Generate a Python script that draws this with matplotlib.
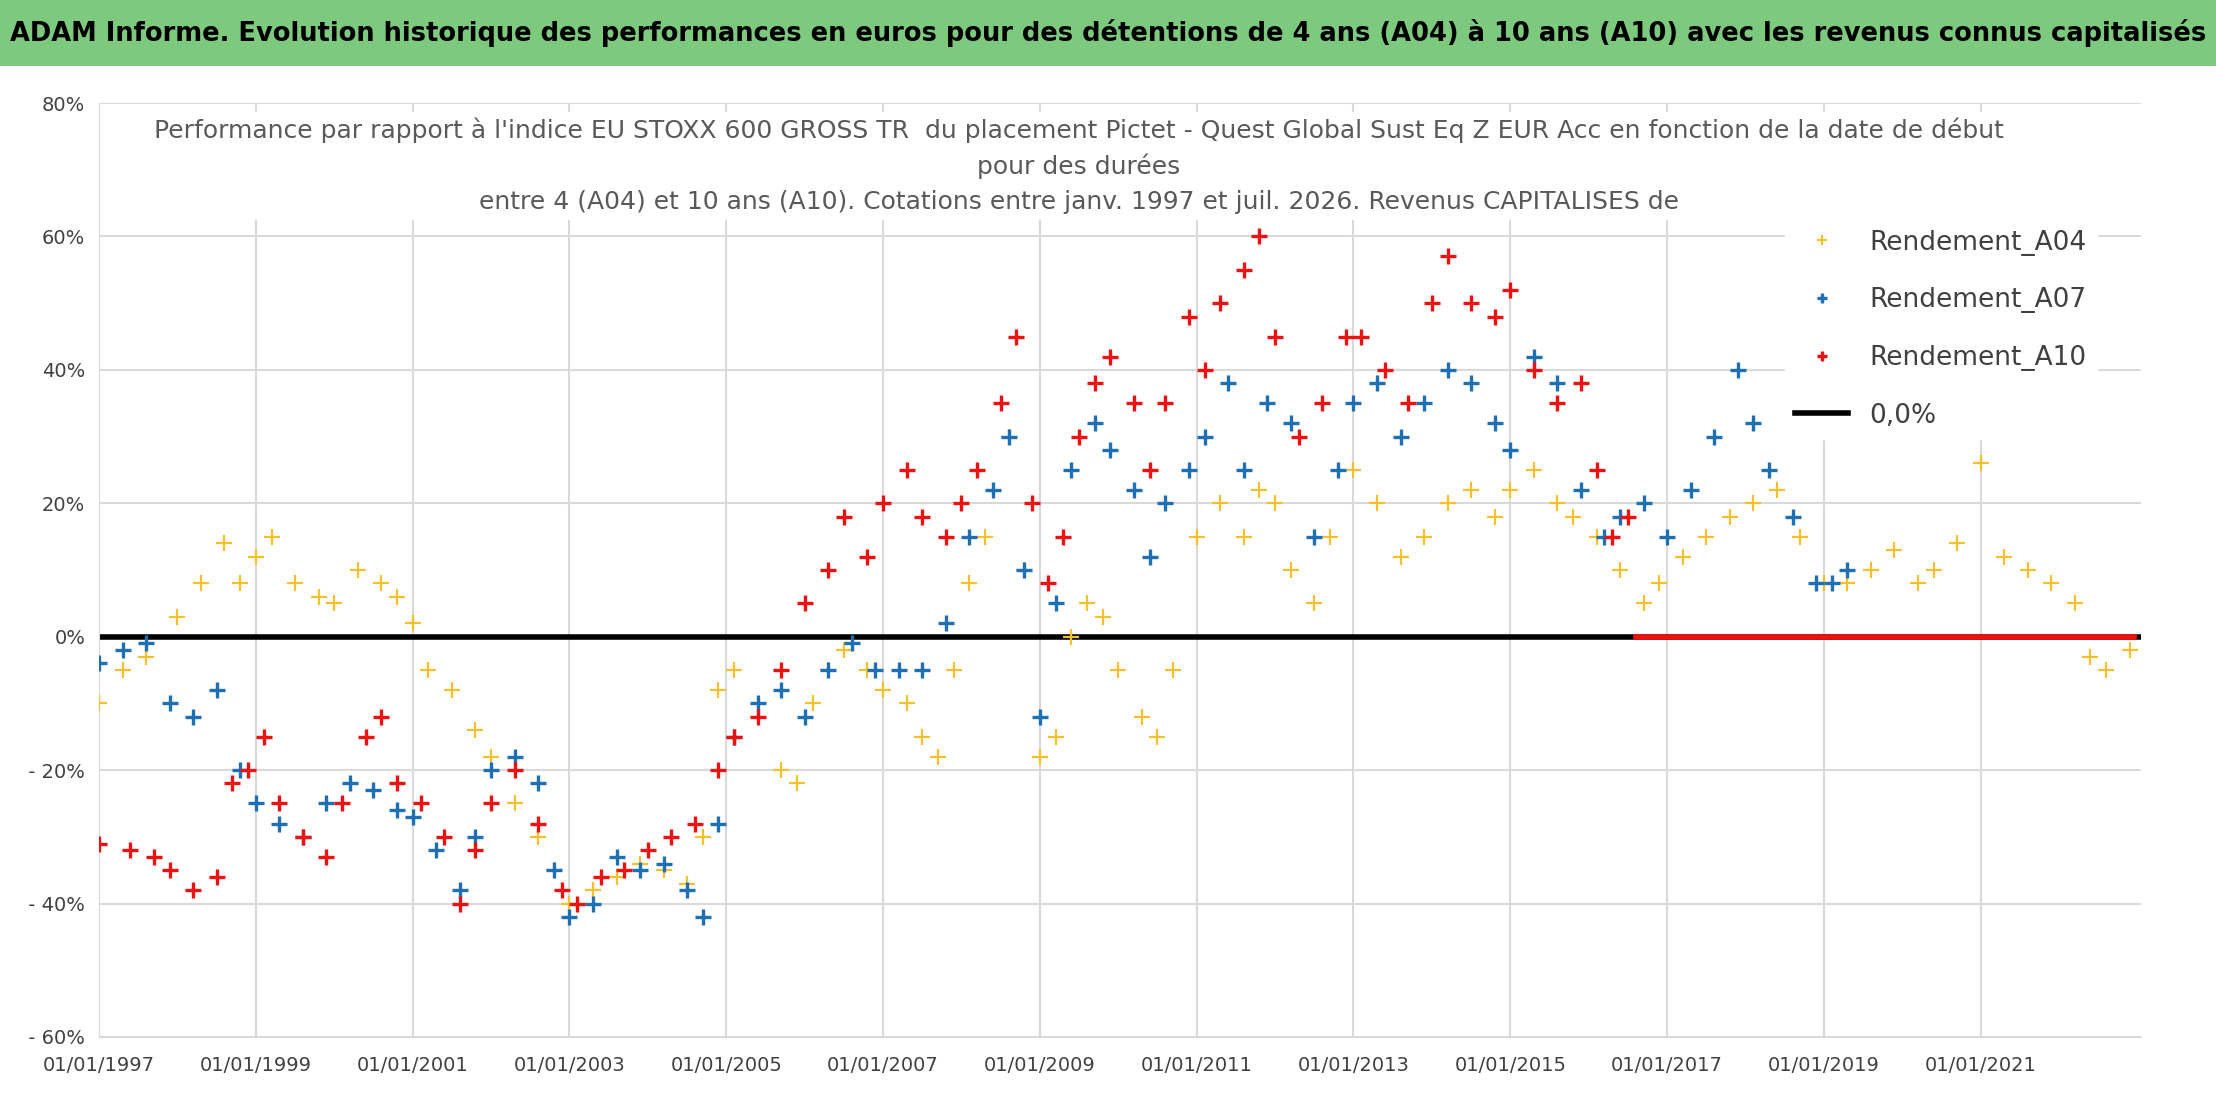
import matplotlib
matplotlib.use("Agg")
import matplotlib.pyplot as plt
import numpy as np
import matplotlib.patches as mpatches

plt.rcParams['font.family'] = ['DejaVu Sans']

a04_t = [1997.0,1997.3,1997.6,1998.0,1998.3,1998.6,1998.8,1999.0,1999.2,1999.5,1999.8,2000.0,2000.3,2000.6,2000.8,2001.0,2001.2,2001.5,2001.8,2002.0,2002.3,2002.6,2002.8,2003.0,2003.3,2003.6,2003.9,2004.2,2004.5,2004.7,2004.9,2005.1,2005.4,2005.7,2005.9,2006.1,2006.3,2006.5,2006.8,2007.0,2007.3,2007.5,2007.7,2007.9,2008.1,2008.3,2008.6,2008.8,2009.0,2009.2,2009.4,2009.6,2009.8,2010.0,2010.3,2010.5,2010.7,2011.0,2011.3,2011.6,2011.8,2012.0,2012.2,2012.5,2012.7,2013.0,2013.3,2013.6,2013.9,2014.2,2014.5,2014.8,2015.0,2015.3,2015.6,2015.8,2016.1,2016.4,2016.7,2016.9,2017.2,2017.5,2017.8,2018.1,2018.4,2018.7,2019.0,2019.3,2019.6,2019.9,2020.2,2020.4,2020.7,2021.0,2021.3,2021.6,2021.9,2022.2,2022.4,2022.6,2022.9]
a04_v = [-10,-5,-3,3,8,14,8,12,15,8,6,5,10,8,6,2,-5,-8,-14,-18,-25,-30,-35,-40,-38,-36,-34,-35,-37,-30,-8,-5,-12,-20,-22,-10,-5,-2,-5,-8,-10,-15,-18,-5,8,15,30,10,-18,-15,0,5,3,-5,-12,-15,-5,15,20,15,22,20,10,5,15,25,20,12,15,20,22,18,22,25,20,18,15,10,5,8,12,15,18,20,22,15,8,8,10,13,8,10,14,26,12,10,8,5,-3,-5,-2]

a07_t = [1997.0,1997.3,1997.6,1997.9,1998.2,1998.5,1998.8,1999.0,1999.3,1999.6,1999.9,2000.2,2000.5,2000.8,2001.0,2001.3,2001.6,2001.8,2002.0,2002.3,2002.6,2002.8,2003.0,2003.3,2003.6,2003.9,2004.2,2004.5,2004.7,2004.9,2005.1,2005.4,2005.7,2006.0,2006.3,2006.6,2006.9,2007.2,2007.5,2007.8,2008.1,2008.4,2008.6,2008.8,2009.0,2009.2,2009.4,2009.7,2009.9,2010.2,2010.4,2010.6,2010.9,2011.1,2011.4,2011.6,2011.9,2012.2,2012.5,2012.8,2013.0,2013.3,2013.6,2013.9,2014.2,2014.5,2014.8,2015.0,2015.3,2015.6,2015.9,2016.2,2016.4,2016.7,2017.0,2017.3,2017.6,2017.9,2018.1,2018.3,2018.6,2018.9,2019.1,2019.3]
a07_v = [-4,-2,-1,-10,-12,-8,-20,-25,-28,-30,-25,-22,-23,-26,-27,-32,-38,-30,-20,-18,-22,-35,-42,-40,-33,-35,-34,-38,-42,-28,-15,-10,-8,-12,-5,-1,-5,-5,-5,2,15,22,30,10,-12,5,25,32,28,22,12,20,25,30,38,25,35,32,15,25,35,38,30,35,40,38,32,28,42,38,22,15,18,20,15,22,30,40,32,25,18,8,8,10]

a10_t = [1997.0,1997.4,1997.7,1997.9,1998.2,1998.5,1998.7,1998.9,1999.1,1999.3,1999.6,1999.9,2000.1,2000.4,2000.6,2000.8,2001.1,2001.4,2001.6,2001.8,2002.0,2002.3,2002.6,2002.9,2003.1,2003.4,2003.7,2004.0,2004.3,2004.6,2004.9,2005.1,2005.4,2005.7,2006.0,2006.3,2006.5,2006.8,2007.0,2007.3,2007.5,2007.8,2008.0,2008.2,2008.5,2008.7,2008.9,2009.1,2009.3,2009.5,2009.7,2009.9,2010.2,2010.4,2010.6,2010.9,2011.1,2011.3,2011.6,2011.8,2012.0,2012.3,2012.6,2012.9,2013.1,2013.4,2013.7,2014.0,2014.2,2014.5,2014.8,2015.0,2015.3,2015.6,2015.9,2016.1,2016.3,2016.5]
a10_v = [-31,-32,-33,-35,-38,-36,-22,-20,-15,-25,-30,-33,-25,-15,-12,-22,-25,-30,-40,-32,-25,-20,-28,-38,-40,-36,-35,-32,-30,-28,-20,-15,-12,-5,5,10,18,12,20,25,18,15,20,25,35,45,20,8,15,30,38,42,35,25,35,48,40,50,55,60,45,30,35,45,45,40,35,50,57,50,48,52,40,35,38,25,15,18]
a10_zero_t = [2016.6, 2022.95]
a10_zero_v = [0, 0]

yticks = [80, 60, 40, 20, 0, -20, -40, -60]
ytick_labels = ['80%', '60%', '40%', '20%', '0%', ' - 20%', ' - 40%', ' - 60%']
xtick_years = list(range(1997, 2023, 2))
xtick_labels = ['01/01/%d' % y for y in xtick_years]

fig = plt.figure(figsize=(22.16, 11.02), dpi=100)
fig.patches.append(mpatches.Rectangle((0, 0.94), 1, 0.06, transform=fig.transFigure,
                                      facecolor='#7dc97d', edgecolor='none'))
fig.text(0.5, 0.97, "ADAM Informe. Evolution historique des performances en euros pour des détentions de 4 ans (A04) à 10 ans (A10) avec les revenus connus capitalisés",
         ha='center', va='center', fontsize=18.5, fontweight='bold', color='black',
         family=['DejaVu Sans Condensed', 'DejaVu Sans'])

ax = fig.add_axes([0.0447, 0.059, 0.9213, 0.8475])
ax.set_xlim(1997.0, 2023.04)
ax.set_ylim(-60, 80)
ax.set_yticks(yticks)
ax.set_yticklabels(ytick_labels)
ax.set_xticks(xtick_years)
ax.set_xticklabels(xtick_labels)
ax.tick_params(length=0, labelsize=14, colors='#404040')
ax.tick_params(axis='x', pad=14)
ax.tick_params(axis='y', pad=10)
ax.grid(True, color='#d9d9d9', linewidth=1.5)
ax.set_axisbelow(True)
for s in ['top', 'right']:
    ax.spines[s].set_visible(False)
for s in ['left', 'bottom']:
    ax.spines[s].set_color('#d9d9d9')

ax.plot([1997.0, 2023.04], [0, 0], color='black', lw=4, label='0,0%', zorder=2)
ax.plot(a04_t, a04_v, '+', color='#f5c02a', ms=11, mew=1.6, label='Rendement_A04', zorder=3)
ax.plot(a07_t, a07_v, '+', color='#1f6fb5', ms=11, mew=2.4, label='Rendement_A07', zorder=4)
ax.plot(a10_t, a10_v, '+', color='#ee1111', ms=11, mew=2.4, label='Rendement_A10', zorder=5)
ax.plot(a10_zero_t, a10_zero_v, '-', color='#ee1111', lw=4, zorder=5)

h, l = ax.get_legend_handles_labels()
order = [1, 2, 3, 0]
leg = ax.legend([h[i] for i in order], [l[i] for i in order], loc='upper right',
                bbox_to_anchor=(0.985, 0.89), fontsize=19, frameon=True, framealpha=1,
                edgecolor='white', labelspacing=1.2, markerscale=0.6, handlelength=2.0)
for t in leg.get_texts():
    t.set_color('#404040')

ax.text(0.48, 0.985, "Performance par rapport à l'indice EU STOXX 600 GROSS TR  du placement Pictet - Quest Global Sust Eq Z EUR Acc en fonction de la date de début\npour des durées\nentre 4 (A04) et 10 ans (A10). Cotations entre janv. 1997 et juil. 2026. Revenus CAPITALISES de",
        transform=ax.transAxes, ha='center', va='top', fontsize=18, color='#595959',
        linespacing=1.55, backgroundcolor='white')

fig.savefig('out.png', dpi=100)
